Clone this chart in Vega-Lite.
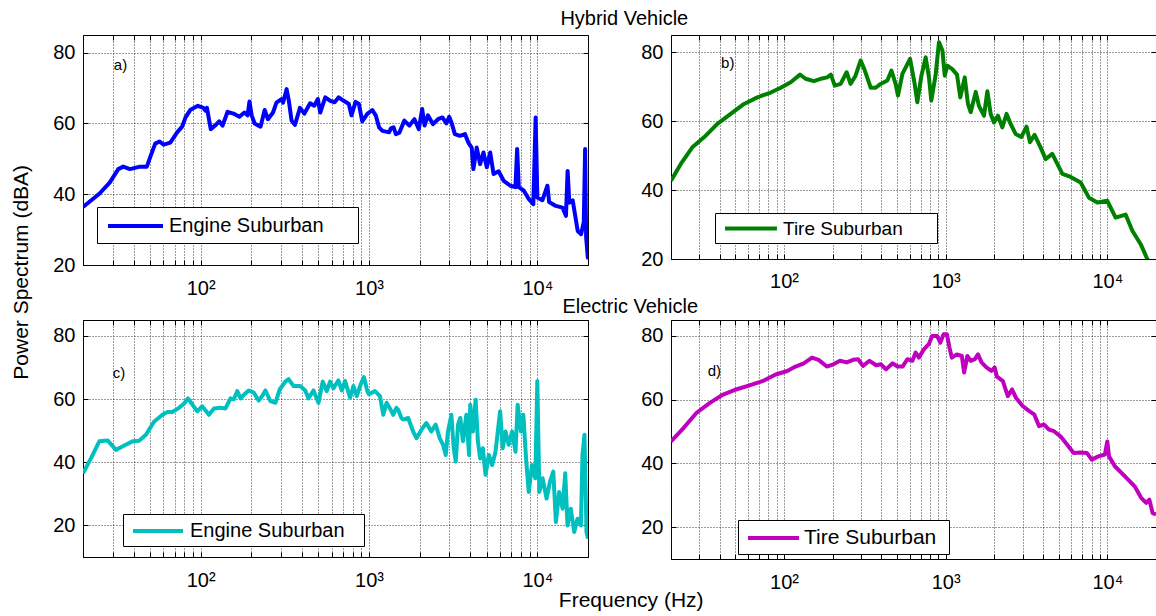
{
  "$schema": "https://vega.github.io/schema/vega-lite/v6.json",
  "padding": {"left": 9, "top": 8, "right": 0, "bottom": 0},
  "background": "white",
  "config": {
    "font": "Liberation Sans",
    "view": {"stroke": "black", "strokeWidth": 1},
    "axis": {
      "labelFont": "Liberation Sans", "labelFontSize": 20, "labelColor": "black",
      "titleFont": "Liberation Sans", "titleFontSize": 21, "titleFontWeight": "normal", "titleColor": "black",
      "domain": false, "gridColor": "#222", "gridDash": [1, 2], "gridWidth": 0.9,
      "tickColor": "black", "tickSize": -5, "tickWidth": 1,
      "labelOverlap": false, "labelBound": false, "labelFlush": false
    },
    "legend": {"strokeColor": "black", "fillColor": "white", "labelFont": "Liberation Sans", "labelColor": "black", "labelLimit": 400},
    "title": {"font": "Liberation Sans", "fontSize": 20, "fontWeight": "normal", "color": "black", "frame": "group", "anchor": "middle", "baseline": "alphabetic"}
  },
  "datasets": {
    "a": [
      {"f":20,"v":36.4,"s":"Engine Suburban"},{"f":25.1,"v":40.2,"s":"Engine Suburban"},{"f":28.8,"v":43.3,"s":"Engine Suburban"},{"f":32.4,"v":47.1,"s":"Engine Suburban"},{"f":34.7,"v":47.8,"s":"Engine Suburban"},{"f":38,"v":47.1,"s":"Engine Suburban"},{"f":43.6,"v":47.8,"s":"Engine Suburban"},{"f":47.9,"v":47.8,"s":"Engine Suburban"},{"f":50.1,"v":50.4,"s":"Engine Suburban"},{"f":53.7,"v":54.3,"s":"Engine Suburban"},{"f":57,"v":54.9,"s":"Engine Suburban"},{"f":60.3,"v":54.0,"s":"Engine Suburban"},{"f":66,"v":54.6,"s":"Engine Suburban"},{"f":72.5,"v":57.5,"s":"Engine Suburban"},{"f":77.6,"v":59.1,"s":"Engine Suburban"},{"f":81.3,"v":61.7,"s":"Engine Suburban"},{"f":87.1,"v":63.9,"s":"Engine Suburban"},{"f":96.3,"v":65.0,"s":"Engine Suburban"},{"f":103.8,"v":64.4,"s":"Engine Suburban"},{"f":107,"v":63.6,"s":"Engine Suburban"},{"f":109,"v":64.4,"s":"Engine Suburban"},{"f":114.8,"v":58.4,"s":"Engine Suburban"},{"f":123,"v":59.6,"s":"Engine Suburban"},{"f":128.8,"v":60.6,"s":"Engine Suburban"},{"f":134.9,"v":59.4,"s":"Engine Suburban"},{"f":144.5,"v":63.3,"s":"Engine Suburban"},{"f":158.5,"v":62.7,"s":"Engine Suburban"},{"f":169.8,"v":61.9,"s":"Engine Suburban"},{"f":181.9,"v":63.1,"s":"Engine Suburban"},{"f":190,"v":62.3,"s":"Engine Suburban"},{"f":195,"v":66.2,"s":"Engine Suburban"},{"f":201,"v":62.3,"s":"Engine Suburban"},{"f":209,"v":60.0,"s":"Engine Suburban"},{"f":227,"v":59.1,"s":"Engine Suburban"},{"f":240,"v":63.8,"s":"Engine Suburban"},{"f":251,"v":61.2,"s":"Engine Suburban"},{"f":269,"v":63.1,"s":"Engine Suburban"},{"f":282,"v":65.9,"s":"Engine Suburban"},{"f":302,"v":66.9,"s":"Engine Suburban"},{"f":309,"v":65.9,"s":"Engine Suburban"},{"f":324,"v":69.7,"s":"Engine Suburban"},{"f":334,"v":66.4,"s":"Engine Suburban"},{"f":347,"v":60.8,"s":"Engine Suburban"},{"f":363,"v":59.6,"s":"Engine Suburban"},{"f":389,"v":64.4,"s":"Engine Suburban"},{"f":413,"v":62.8,"s":"Engine Suburban"},{"f":447,"v":65.7,"s":"Engine Suburban"},{"f":473,"v":65.0,"s":"Engine Suburban"},{"f":497,"v":66.9,"s":"Engine Suburban"},{"f":513,"v":63.1,"s":"Engine Suburban"},{"f":550,"v":67.4,"s":"Engine Suburban"},{"f":589,"v":66.4,"s":"Engine Suburban"},{"f":625,"v":66.0,"s":"Engine Suburban"},{"f":661,"v":67.4,"s":"Engine Suburban"},{"f":708,"v":66.4,"s":"Engine Suburban"},{"f":759,"v":65.5,"s":"Engine Suburban"},{"f":787,"v":62.3,"s":"Engine Suburban"},{"f":832,"v":66.1,"s":"Engine Suburban"},{"f":871,"v":65.5,"s":"Engine Suburban"},{"f":912,"v":60.6,"s":"Engine Suburban"},{"f":977,"v":62.7,"s":"Engine Suburban"},{"f":1047,"v":63.8,"s":"Engine Suburban"},{"f":1096,"v":62.3,"s":"Engine Suburban"},{"f":1148,"v":58.9,"s":"Engine Suburban"},{"f":1202,"v":57.9,"s":"Engine Suburban"},{"f":1259,"v":57.7,"s":"Engine Suburban"},{"f":1318,"v":57.5,"s":"Engine Suburban"},{"f":1349,"v":58.6,"s":"Engine Suburban"},{"f":1400,"v":58.9,"s":"Engine Suburban"},{"f":1445,"v":57.0,"s":"Engine Suburban"},{"f":1514,"v":57.4,"s":"Engine Suburban"},{"f":1622,"v":60.8,"s":"Engine Suburban"},{"f":1738,"v":59.4,"s":"Engine Suburban"},{"f":1862,"v":61.2,"s":"Engine Suburban"},{"f":1977,"v":58.4,"s":"Engine Suburban"},{"f":2070,"v":64.1,"s":"Engine Suburban"},{"f":2138,"v":59.4,"s":"Engine Suburban"},{"f":2239,"v":62.3,"s":"Engine Suburban"},{"f":2399,"v":59.8,"s":"Engine Suburban"},{"f":2570,"v":61.2,"s":"Engine Suburban"},{"f":2729,"v":61.7,"s":"Engine Suburban"},{"f":2884,"v":60.0,"s":"Engine Suburban"},{"f":2994,"v":61.9,"s":"Engine Suburban"},{"f":3090,"v":60.3,"s":"Engine Suburban"},{"f":3236,"v":57.0,"s":"Engine Suburban"},{"f":3467,"v":56.5,"s":"Engine Suburban"},{"f":3715,"v":57.0,"s":"Engine Suburban"},{"f":3890,"v":54.6,"s":"Engine Suburban"},{"f":4074,"v":53.2,"s":"Engine Suburban"},{"f":4169,"v":47.1,"s":"Engine Suburban"},{"f":4365,"v":53.2,"s":"Engine Suburban"},{"f":4571,"v":48.5,"s":"Engine Suburban"},{"f":4786,"v":51.8,"s":"Engine Suburban"},{"f":5012,"v":47.6,"s":"Engine Suburban"},{"f":5248,"v":51.8,"s":"Engine Suburban"},{"f":5495,"v":45.7,"s":"Engine Suburban"},{"f":5888,"v":46.5,"s":"Engine Suburban"},{"f":6310,"v":43.8,"s":"Engine Suburban"},{"f":6918,"v":42.4,"s":"Engine Suburban"},{"f":7413,"v":42.0,"s":"Engine Suburban"},{"f":7586,"v":52.8,"s":"Engine Suburban"},{"f":7762,"v":42.0,"s":"Engine Suburban"},{"f":8318,"v":41.0,"s":"Engine Suburban"},{"f":8913,"v":38.6,"s":"Engine Suburban"},{"f":9467,"v":37.2,"s":"Engine Suburban"},{"f":9772,"v":61.7,"s":"Engine Suburban"},{"f":10000,"v":39.1,"s":"Engine Suburban"},{"f":10715,"v":38.3,"s":"Engine Suburban"},{"f":11482,"v":42.4,"s":"Engine Suburban"},{"f":11750,"v":37.8,"s":"Engine Suburban"},{"f":12882,"v":36.7,"s":"Engine Suburban"},{"f":14125,"v":36.2,"s":"Engine Suburban"},{"f":14791,"v":33.9,"s":"Engine Suburban"},{"f":15136,"v":46.6,"s":"Engine Suburban"},{"f":15488,"v":37.6,"s":"Engine Suburban"},{"f":16218,"v":38.3,"s":"Engine Suburban"},{"f":17378,"v":29.6,"s":"Engine Suburban"},{"f":18197,"v":28.7,"s":"Engine Suburban"},{"f":18880,"v":32.2,"s":"Engine Suburban"},{"f":19230,"v":52.8,"s":"Engine Suburban"},{"f":19500,"v":27.8,"s":"Engine Suburban"},{"f":19950,"v":22.1,"s":"Engine Suburban"},{"f":20000,"v":24.0,"s":"Engine Suburban"}
    ],
    "b": [
      {"f":20,"v":42.7,"s":"Tire Suburban"},{"f":23,"v":47.6,"s":"Tire Suburban"},{"f":27.1,"v":52.4,"s":"Tire Suburban"},{"f":32,"v":55.3,"s":"Tire Suburban"},{"f":38.7,"v":59.2,"s":"Tire Suburban"},{"f":46.8,"v":62.1,"s":"Tire Suburban"},{"f":56.6,"v":65.0,"s":"Tire Suburban"},{"f":68.4,"v":66.9,"s":"Tire Suburban"},{"f":72,"v":67.3,"s":"Tire Suburban"},{"f":82.8,"v":68.3,"s":"Tire Suburban"},{"f":95.4,"v":69.7,"s":"Tire Suburban"},{"f":110,"v":71.3,"s":"Tire Suburban"},{"f":125.6,"v":73.5,"s":"Tire Suburban"},{"f":136,"v":72.3,"s":"Tire Suburban"},{"f":153,"v":71.6,"s":"Tire Suburban"},{"f":168.6,"v":72.3,"s":"Tire Suburban"},{"f":185,"v":72.7,"s":"Tire Suburban"},{"f":195,"v":73.5,"s":"Tire Suburban"},{"f":206,"v":70.3,"s":"Tire Suburban"},{"f":224,"v":70.8,"s":"Tire Suburban"},{"f":244,"v":74.2,"s":"Tire Suburban"},{"f":258,"v":70.8,"s":"Tire Suburban"},{"f":277,"v":73.2,"s":"Tire Suburban"},{"f":298,"v":77.6,"s":"Tire Suburban"},{"f":315,"v":74.9,"s":"Tire Suburban"},{"f":344,"v":69.7,"s":"Tire Suburban"},{"f":369,"v":69.7,"s":"Tire Suburban"},{"f":396,"v":70.8,"s":"Tire Suburban"},{"f":436,"v":71.8,"s":"Tire Suburban"},{"f":462,"v":74.7,"s":"Tire Suburban"},{"f":490,"v":70.8,"s":"Tire Suburban"},{"f":507,"v":67.4,"s":"Tire Suburban"},{"f":540,"v":73.7,"s":"Tire Suburban"},{"f":602,"v":78.1,"s":"Tire Suburban"},{"f":643,"v":70.8,"s":"Tire Suburban"},{"f":668,"v":65.5,"s":"Tire Suburban"},{"f":708,"v":73.2,"s":"Tire Suburban"},{"f":752,"v":78.5,"s":"Tire Suburban"},{"f":788,"v":72.7,"s":"Tire Suburban"},{"f":815,"v":66.0,"s":"Tire Suburban"},{"f":867,"v":73.5,"s":"Tire Suburban"},{"f":909,"v":82.9,"s":"Tire Suburban"},{"f":955,"v":80.5,"s":"Tire Suburban"},{"f":987,"v":73.2,"s":"Tire Suburban"},{"f":1023,"v":76.1,"s":"Tire Suburban"},{"f":1099,"v":75.1,"s":"Tire Suburban"},{"f":1175,"v":73.5,"s":"Tire Suburban"},{"f":1232,"v":66.9,"s":"Tire Suburban"},{"f":1312,"v":72.7,"s":"Tire Suburban"},{"f":1374,"v":65.0,"s":"Tire Suburban"},{"f":1428,"v":62.6,"s":"Tire Suburban"},{"f":1534,"v":68.5,"s":"Tire Suburban"},{"f":1607,"v":64.4,"s":"Tire Suburban"},{"f":1726,"v":61.6,"s":"Tire Suburban"},{"f":1811,"v":68.7,"s":"Tire Suburban"},{"f":1899,"v":62.1,"s":"Tire Suburban"},{"f":1990,"v":59.6,"s":"Tire Suburban"},{"f":2105,"v":61.6,"s":"Tire Suburban"},{"f":2240,"v":58.2,"s":"Tire Suburban"},{"f":2382,"v":62.1,"s":"Tire Suburban"},{"f":2522,"v":59.2,"s":"Tire Suburban"},{"f":2708,"v":56.3,"s":"Tire Suburban"},{"f":2937,"v":55.4,"s":"Tire Suburban"},{"f":3166,"v":58.4,"s":"Tire Suburban"},{"f":3320,"v":53.9,"s":"Tire Suburban"},{"f":3549,"v":56.0,"s":"Tire Suburban"},{"f":3863,"v":52.4,"s":"Tire Suburban"},{"f":4150,"v":49.0,"s":"Tire Suburban"},{"f":4567,"v":50.5,"s":"Tire Suburban"},{"f":4906,"v":47.6,"s":"Tire Suburban"},{"f":5270,"v":44.7,"s":"Tire Suburban"},{"f":5934,"v":43.8,"s":"Tire Suburban"},{"f":6840,"v":42.2,"s":"Tire Suburban"},{"f":7696,"v":37.8,"s":"Tire Suburban"},{"f":8670,"v":36.4,"s":"Tire Suburban"},{"f":10000,"v":36.9,"s":"Tire Suburban"},{"f":11250,"v":32.0,"s":"Tire Suburban"},{"f":12970,"v":32.9,"s":"Tire Suburban"},{"f":14280,"v":28.2,"s":"Tire Suburban"},{"f":16080,"v":24.3,"s":"Tire Suburban"},{"f":17660,"v":20.0,"s":"Tire Suburban"},{"f":18200,"v":19.0,"s":"Tire Suburban"}
    ],
    "c": [
      {"f":20,"v":36.5,"s":"Engine Suburban"},{"f":22.3,"v":41.2,"s":"Engine Suburban"},{"f":25,"v":46.6,"s":"Engine Suburban"},{"f":28,"v":46.9,"s":"Engine Suburban"},{"f":31.4,"v":43.9,"s":"Engine Suburban"},{"f":35.2,"v":45.3,"s":"Engine Suburban"},{"f":39.4,"v":46.6,"s":"Engine Suburban"},{"f":43.1,"v":46.8,"s":"Engine Suburban"},{"f":47.3,"v":48.7,"s":"Engine Suburban"},{"f":53,"v":52.9,"s":"Engine Suburban"},{"f":59.3,"v":55.0,"s":"Engine Suburban"},{"f":63.5,"v":55.9,"s":"Engine Suburban"},{"f":67.9,"v":55.9,"s":"Engine Suburban"},{"f":74.4,"v":57.2,"s":"Engine Suburban"},{"f":79.5,"v":58.5,"s":"Engine Suburban"},{"f":84,"v":60.2,"s":"Engine Suburban"},{"f":89.1,"v":58.3,"s":"Engine Suburban"},{"f":95.5,"v":56.1,"s":"Engine Suburban"},{"f":102,"v":57.7,"s":"Engine Suburban"},{"f":112,"v":55.0,"s":"Engine Suburban"},{"f":120,"v":57.0,"s":"Engine Suburban"},{"f":131,"v":57.2,"s":"Engine Suburban"},{"f":140.5,"v":57.0,"s":"Engine Suburban"},{"f":150.5,"v":60.2,"s":"Engine Suburban"},{"f":157.5,"v":59.9,"s":"Engine Suburban"},{"f":165,"v":62.5,"s":"Engine Suburban"},{"f":172.6,"v":60.2,"s":"Engine Suburban"},{"f":182,"v":61.5,"s":"Engine Suburban"},{"f":193,"v":62.7,"s":"Engine Suburban"},{"f":207,"v":62.0,"s":"Engine Suburban"},{"f":221,"v":59.5,"s":"Engine Suburban"},{"f":231.6,"v":60.9,"s":"Engine Suburban"},{"f":242.5,"v":62.7,"s":"Engine Suburban"},{"f":259.6,"v":59.3,"s":"Engine Suburban"},{"f":278,"v":58.8,"s":"Engine Suburban"},{"f":294.6,"v":63.0,"s":"Engine Suburban"},{"f":318.5,"v":65.5,"s":"Engine Suburban"},{"f":333,"v":66.3,"s":"Engine Suburban"},{"f":356.5,"v":64.1,"s":"Engine Suburban"},{"f":390.5,"v":64.1,"s":"Engine Suburban"},{"f":418,"v":62.7,"s":"Engine Suburban"},{"f":437.5,"v":60.2,"s":"Engine Suburban"},{"f":468,"v":62.7,"s":"Engine Suburban"},{"f":501,"v":58.8,"s":"Engine Suburban"},{"f":531,"v":65.5,"s":"Engine Suburban"},{"f":561,"v":62.5,"s":"Engine Suburban"},{"f":587,"v":65.5,"s":"Engine Suburban"},{"f":615,"v":63.4,"s":"Engine Suburban"},{"f":658,"v":65.9,"s":"Engine Suburban"},{"f":689,"v":62.7,"s":"Engine Suburban"},{"f":721,"v":65.7,"s":"Engine Suburban"},{"f":772,"v":60.4,"s":"Engine Suburban"},{"f":808,"v":64.1,"s":"Engine Suburban"},{"f":846,"v":60.9,"s":"Engine Suburban"},{"f":892,"v":64.6,"s":"Engine Suburban"},{"f":934,"v":66.9,"s":"Engine Suburban"},{"f":977,"v":62.5,"s":"Engine Suburban"},{"f":1000,"v":61.5,"s":"Engine Suburban"},{"f":1086,"v":62.5,"s":"Engine Suburban"},{"f":1162,"v":60.9,"s":"Engine Suburban"},{"f":1216,"v":55.0,"s":"Engine Suburban"},{"f":1272,"v":58.8,"s":"Engine Suburban"},{"f":1361,"v":56.1,"s":"Engine Suburban"},{"f":1393,"v":55.0,"s":"Engine Suburban"},{"f":1456,"v":57.2,"s":"Engine Suburban"},{"f":1490,"v":56.6,"s":"Engine Suburban"},{"f":1559,"v":54.0,"s":"Engine Suburban"},{"f":1596,"v":53.5,"s":"Engine Suburban"},{"f":1709,"v":54.0,"s":"Engine Suburban"},{"f":1830,"v":49.7,"s":"Engine Suburban"},{"f":1914,"v":47.6,"s":"Engine Suburban"},{"f":2050,"v":50.3,"s":"Engine Suburban"},{"f":2193,"v":52.4,"s":"Engine Suburban"},{"f":2345,"v":49.7,"s":"Engine Suburban"},{"f":2490,"v":51.9,"s":"Engine Suburban"},{"f":2630,"v":47.6,"s":"Engine Suburban"},{"f":2754,"v":45.5,"s":"Engine Suburban"},{"f":2856,"v":42.3,"s":"Engine Suburban"},{"f":2946,"v":49.7,"s":"Engine Suburban"},{"f":3085,"v":55.0,"s":"Engine Suburban"},{"f":3188,"v":44.4,"s":"Engine Suburban"},{"f":3275,"v":40.2,"s":"Engine Suburban"},{"f":3380,"v":51.9,"s":"Engine Suburban"},{"f":3487,"v":54.0,"s":"Engine Suburban"},{"f":3617,"v":46.6,"s":"Engine Suburban"},{"f":3787,"v":55.0,"s":"Engine Suburban"},{"f":3930,"v":42.3,"s":"Engine Suburban"},{"f":3994,"v":58.2,"s":"Engine Suburban"},{"f":4143,"v":49.7,"s":"Engine Suburban"},{"f":4300,"v":59.8,"s":"Engine Suburban"},{"f":4436,"v":46.6,"s":"Engine Suburban"},{"f":4575,"v":41.2,"s":"Engine Suburban"},{"f":4747,"v":44.4,"s":"Engine Suburban"},{"f":4924,"v":36.0,"s":"Engine Suburban"},{"f":5150,"v":42.3,"s":"Engine Suburban"},{"f":5390,"v":39.1,"s":"Engine Suburban"},{"f":5643,"v":43.3,"s":"Engine Suburban"},{"f":6010,"v":56.1,"s":"Engine Suburban"},{"f":6233,"v":44.4,"s":"Engine Suburban"},{"f":6468,"v":49.7,"s":"Engine Suburban"},{"f":6763,"v":45.5,"s":"Engine Suburban"},{"f":7080,"v":49.7,"s":"Engine Suburban"},{"f":7420,"v":43.3,"s":"Engine Suburban"},{"f":7640,"v":58.2,"s":"Engine Suburban"},{"f":7995,"v":49.7,"s":"Engine Suburban"},{"f":8260,"v":55.0,"s":"Engine Suburban"},{"f":8570,"v":41.2,"s":"Engine Suburban"},{"f":8890,"v":30.6,"s":"Engine Suburban"},{"f":9300,"v":39.1,"s":"Engine Suburban"},{"f":9730,"v":34.9,"s":"Engine Suburban"},{"f":10000,"v":65.7,"s":"Engine Suburban"},{"f":10280,"v":30.6,"s":"Engine Suburban"},{"f":10750,"v":34.9,"s":"Engine Suburban"},{"f":11350,"v":28.5,"s":"Engine Suburban"},{"f":11880,"v":33.8,"s":"Engine Suburban"},{"f":12440,"v":37.0,"s":"Engine Suburban"},{"f":12890,"v":21.1,"s":"Engine Suburban"},{"f":13490,"v":30.6,"s":"Engine Suburban"},{"f":14130,"v":25.3,"s":"Engine Suburban"},{"f":14650,"v":36.5,"s":"Engine Suburban"},{"f":15110,"v":20.0,"s":"Engine Suburban"},{"f":15800,"v":25.3,"s":"Engine Suburban"},{"f":16560,"v":17.9,"s":"Engine Suburban"},{"f":17330,"v":22.1,"s":"Engine Suburban"},{"f":18150,"v":20.0,"s":"Engine Suburban"},{"f":18540,"v":42.3,"s":"Engine Suburban"},{"f":19060,"v":48.7,"s":"Engine Suburban"},{"f":19590,"v":17.9,"s":"Engine Suburban"},{"f":20000,"v":15.8,"s":"Engine Suburban"}
    ],
    "d": [
      {"f":20,"v":46.9,"s":"Tire Suburban"},{"f":23.9,"v":51.1,"s":"Tire Suburban"},{"f":28.8,"v":55.9,"s":"Tire Suburban"},{"f":34.8,"v":59.0,"s":"Tire Suburban"},{"f":42,"v":61.6,"s":"Tire Suburban"},{"f":50.6,"v":63.2,"s":"Tire Suburban"},{"f":61.1,"v":64.5,"s":"Tire Suburban"},{"f":73.6,"v":65.8,"s":"Tire Suburban"},{"f":88.9,"v":67.9,"s":"Tire Suburban"},{"f":104.8,"v":69.0,"s":"Tire Suburban"},{"f":117.8,"v":70.4,"s":"Tire Suburban"},{"f":132.5,"v":71.4,"s":"Tire Suburban"},{"f":149,"v":73.2,"s":"Tire Suburban"},{"f":163.6,"v":72.5,"s":"Tire Suburban"},{"f":184,"v":70.4,"s":"Tire Suburban"},{"f":202,"v":71.1,"s":"Tire Suburban"},{"f":222,"v":72.2,"s":"Tire Suburban"},{"f":244,"v":71.7,"s":"Tire Suburban"},{"f":268,"v":72.5,"s":"Tire Suburban"},{"f":287,"v":72.7,"s":"Tire Suburban"},{"f":308,"v":70.6,"s":"Tire Suburban"},{"f":338,"v":72.2,"s":"Tire Suburban"},{"f":371.5,"v":70.8,"s":"Tire Suburban"},{"f":398,"v":71.1,"s":"Tire Suburban"},{"f":427.6,"v":69.5,"s":"Tire Suburban"},{"f":470,"v":71.4,"s":"Tire Suburban"},{"f":504,"v":70.4,"s":"Tire Suburban"},{"f":541,"v":70.4,"s":"Tire Suburban"},{"f":580,"v":72.7,"s":"Tire Suburban"},{"f":623,"v":72.2,"s":"Tire Suburban"},{"f":652,"v":74.8,"s":"Tire Suburban"},{"f":683,"v":73.2,"s":"Tire Suburban"},{"f":733,"v":75.8,"s":"Tire Suburban"},{"f":786,"v":77.4,"s":"Tire Suburban"},{"f":825,"v":80.0,"s":"Tire Suburban"},{"f":885,"v":80.0,"s":"Tire Suburban"},{"f":927,"v":77.9,"s":"Tire Suburban"},{"f":971,"v":80.5,"s":"Tire Suburban"},{"f":1018,"v":80.5,"s":"Tire Suburban"},{"f":1056,"v":76.3,"s":"Tire Suburban"},{"f":1092,"v":73.2,"s":"Tire Suburban"},{"f":1172,"v":74.2,"s":"Tire Suburban"},{"f":1259,"v":73.7,"s":"Tire Suburban"},{"f":1300,"v":68.5,"s":"Tire Suburban"},{"f":1362,"v":73.7,"s":"Tire Suburban"},{"f":1428,"v":72.2,"s":"Tire Suburban"},{"f":1517,"v":72.7,"s":"Tire Suburban"},{"f":1585,"v":74.2,"s":"Tire Suburban"},{"f":1667,"v":71.7,"s":"Tire Suburban"},{"f":1787,"v":70.1,"s":"Tire Suburban"},{"f":1919,"v":69.0,"s":"Tire Suburban"},{"f":2010,"v":70.1,"s":"Tire Suburban"},{"f":2076,"v":67.2,"s":"Tire Suburban"},{"f":2259,"v":65.8,"s":"Tire Suburban"},{"f":2422,"v":61.1,"s":"Tire Suburban"},{"f":2576,"v":63.2,"s":"Tire Suburban"},{"f":2727,"v":60.5,"s":"Tire Suburban"},{"f":2994,"v":58.0,"s":"Tire Suburban"},{"f":3289,"v":56.4,"s":"Tire Suburban"},{"f":3526,"v":55.4,"s":"Tire Suburban"},{"f":3783,"v":51.7,"s":"Tire Suburban"},{"f":4061,"v":52.2,"s":"Tire Suburban"},{"f":4357,"v":50.6,"s":"Tire Suburban"},{"f":4677,"v":50.1,"s":"Tire Suburban"},{"f":5130,"v":48.5,"s":"Tire Suburban"},{"f":5632,"v":45.9,"s":"Tire Suburban"},{"f":6190,"v":43.3,"s":"Tire Suburban"},{"f":6800,"v":43.4,"s":"Tire Suburban"},{"f":7470,"v":43.3,"s":"Tire Suburban"},{"f":8010,"v":41.2,"s":"Tire Suburban"},{"f":8800,"v":42.2,"s":"Tire Suburban"},{"f":9660,"v":42.8,"s":"Tire Suburban"},{"f":10000,"v":46.9,"s":"Tire Suburban"},{"f":10240,"v":42.2,"s":"Tire Suburban"},{"f":11130,"v":39.1,"s":"Tire Suburban"},{"f":12810,"v":36.0,"s":"Tire Suburban"},{"f":14760,"v":32.8,"s":"Tire Suburban"},{"f":16190,"v":29.2,"s":"Tire Suburban"},{"f":17390,"v":27.6,"s":"Tire Suburban"},{"f":18200,"v":28.6,"s":"Tire Suburban"},{"f":19060,"v":24.4,"s":"Tire Suburban"},{"f":20000,"v":24.0,"s":"Tire Suburban"}
    ],
    "one": [{"k": 1}]
  },
  "columns": 2,
  "bounds": "flush",
  "spacing": {"row": 55, "column": 83},
  "resolve": {"scale": {"color": "independent", "x": "independent", "y": "independent"}, "legend": {"color": "independent"}},
  "concat": [
    {
      "width": 505, "height": 230,
      "title": {"text": "Hybrid Vehicle", "dx": 288.8, "offset": 5.6},
      "resolve": {"axis": {"x": "independent", "y": "independent"}},
      "layer": [
        {
          "data": {"name": "a"},
          "mark": {"type": "line", "clip": true, "strokeWidth": 4, "strokeJoin": "round"},
          "encoding": {
            "x": {"field": "f", "type": "quantitative", "scale": {"type": "log", "domain": [20, 20000], "nice": false},
              "axis": {"orient": "bottom", "values": [20,30,40,50,60,70,80,90,100,200,300,400,500,600,700,800,900,1000,2000,3000,4000,5000,6000,7000,8000,9000,10000,20000], "labelExpr": "datum.value == 100 ? '10²' : datum.value == 1000 ? '10³' : datum.value == 10000 ? '10⁴' : ''", "labelBaseline": "alphabetic", "labelAlign": "center", "labelPadding": 34, "title": null}},
            "y": {"field": "v", "type": "quantitative", "scale": {"domain": [20, 85], "nice": false, "zero": false},
              "axis": {"orient": "left", "values": [20, 40, 60, 80], "labelPadding": 13, "labelBaseline": "middle", "title": "Power Spectrum (dBA)", "titleX": -56, "titleY": 236.8, "titleAngle": 270, "titleAlign": "center", "titleBaseline": "alphabetic"}},
            "color": {"field": "s", "type": "nominal", "scale": {"range": ["#0000ff"]},
              "legend": {"orient": "none", "legendX": 14, "legendY": 172, "title": ".", "titleOrient": "right", "titleFontSize": 8, "titleOpacity": 0, "titlePadding": 24.3, "padding": 7, "symbolType": "M-0.8,0H4.7", "symbolSize": 400, "symbolStrokeWidth": 4, "labelOffset": 41, "labelFontSize": 20}}
          }
        },
        {
          "data": {"name": "one"},
          "mark": {"type": "text", "align": "left", "baseline": "middle", "fontSize": 15, "font": "Liberation Sans", "color": "black"},
          "encoding": {
            "x": {"datum": 30.5, "type": "quantitative", "axis": {"orient": "top", "values": [20,30,40,50,60,70,80,90,100,200,300,400,500,600,700,800,900,1000,2000,3000,4000,5000,6000,7000,8000,9000,10000,20000], "labels": false, "grid": false, "title": null}},
            "y": {"datum": 76.6, "type": "quantitative", "axis": {"orient": "right", "values": [20, 40, 60, 80], "labels": false, "grid": false, "title": null}},
            "text": {"value": "a)"}
          }
        }
      ]
    },
    {
      "width": 485, "height": 224,
      "resolve": {"axis": {"x": "independent", "y": "independent"}},
      "layer": [
        {
          "data": {"name": "b"},
          "mark": {"type": "line", "clip": true, "strokeWidth": 4, "strokeJoin": "round"},
          "encoding": {
            "x": {"field": "f", "type": "quantitative", "scale": {"type": "log", "domain": [20, 20000], "nice": false},
              "axis": {"orient": "bottom", "values": [20,30,40,50,60,70,80,90,100,200,300,400,500,600,700,800,900,1000,2000,3000,4000,5000,6000,7000,8000,9000,10000,20000], "labelExpr": "datum.value == 100 ? '10²' : datum.value == 1000 ? '10³' : datum.value == 10000 ? '10⁴' : ''", "labelBaseline": "alphabetic", "labelAlign": "center", "labelPadding": 33, "title": null}},
            "y": {"field": "v", "type": "quantitative", "scale": {"domain": [20, 85], "nice": false, "zero": false},
              "axis": {"orient": "left", "values": [20, 40, 60, 80], "labelPadding": 13, "labelBaseline": "middle", "title": null}},
            "color": {"field": "s", "type": "nominal", "scale": {"range": ["#008000"]},
              "legend": {"orient": "none", "legendX": 44, "legendY": 178, "title": ".", "titleOrient": "right", "titleFontSize": 8, "titleOpacity": 0, "titlePadding": 27.4, "padding": 4, "symbolType": "M-0.58,0H4.89", "symbolSize": 361, "symbolStrokeWidth": 4, "labelOffset": 41, "labelFontSize": 19}}
          }
        },
        {
          "data": {"name": "one"},
          "mark": {"type": "text", "align": "left", "baseline": "middle", "fontSize": 15, "font": "Liberation Sans", "color": "black"},
          "encoding": {
            "x": {"datum": 40.8, "type": "quantitative", "axis": {"orient": "top", "values": [20,30,40,50,60,70,80,90,100,200,300,400,500,600,700,800,900,1000,2000,3000,4000,5000,6000,7000,8000,9000,10000,20000], "labels": false, "grid": false, "title": null}},
            "y": {"datum": 76.9, "type": "quantitative", "axis": {"orient": "right", "values": [20, 40, 60, 80], "labels": false, "grid": false, "title": null}},
            "text": {"value": "b)"}
          }
        }
      ]
    },
    {
      "width": 505, "height": 237,
      "title": {"text": "Electric Vehicle", "dx": 294.7, "offset": 3},
      "resolve": {"axis": {"x": "independent", "y": "independent"}},
      "layer": [
        {
          "data": {"name": "c"},
          "mark": {"type": "line", "clip": true, "strokeWidth": 4, "strokeJoin": "round"},
          "encoding": {
            "x": {"field": "f", "type": "quantitative", "scale": {"type": "log", "domain": [20, 20000], "nice": false},
              "axis": {"orient": "bottom", "values": [20,30,40,50,60,70,80,90,100,200,300,400,500,600,700,800,900,1000,2000,3000,4000,5000,6000,7000,8000,9000,10000,20000], "labelExpr": "datum.value == 100 ? '10²' : datum.value == 1000 ? '10³' : datum.value == 10000 ? '10⁴' : ''", "labelBaseline": "alphabetic", "labelAlign": "center", "labelPadding": 34, "title": "Frequency (Hz)", "titleX": 547.7, "titleY": 49, "titleAlign": "center", "titleBaseline": "alphabetic", "titleAngle": 0}},
            "y": {"field": "v", "type": "quantitative", "scale": {"domain": [10, 85], "nice": false, "zero": false},
              "axis": {"orient": "left", "values": [20, 40, 60, 80], "labelPadding": 13, "labelBaseline": "middle", "title": null}},
            "color": {"field": "s", "type": "nominal", "scale": {"range": ["#00bfbf"]},
              "legend": {"orient": "none", "legendX": 40, "legendY": 194, "title": ".", "titleOrient": "right", "titleFontSize": 8, "titleOpacity": 0, "titlePadding": 11.3, "padding": 5, "symbolType": "M-0.7,0H4.3", "symbolSize": 400, "symbolStrokeWidth": 4, "labelOffset": 38, "labelFontSize": 20}}
          }
        },
        {
          "data": {"name": "one"},
          "mark": {"type": "text", "align": "left", "baseline": "middle", "fontSize": 15, "font": "Liberation Sans", "color": "black"},
          "encoding": {
            "x": {"datum": 30.0, "type": "quantitative", "axis": {"orient": "top", "values": [20,30,40,50,60,70,80,90,100,200,300,400,500,600,700,800,900,1000,2000,3000,4000,5000,6000,7000,8000,9000,10000,20000], "labels": false, "grid": false, "title": null}},
            "y": {"datum": 68.3, "type": "quantitative", "axis": {"orient": "right", "values": [20, 40, 60, 80], "labels": false, "grid": false, "title": null}},
            "text": {"value": "c)"}
          }
        }
      ]
    },
    {
      "width": 485, "height": 239,
      "resolve": {"axis": {"x": "independent", "y": "independent"}},
      "layer": [
        {
          "data": {"name": "d"},
          "mark": {"type": "line", "clip": true, "strokeWidth": 4, "strokeJoin": "round"},
          "encoding": {
            "x": {"field": "f", "type": "quantitative", "scale": {"type": "log", "domain": [20, 20000], "nice": false},
              "axis": {"orient": "bottom", "values": [20,30,40,50,60,70,80,90,100,200,300,400,500,600,700,800,900,1000,2000,3000,4000,5000,6000,7000,8000,9000,10000,20000], "labelExpr": "datum.value == 100 ? '10²' : datum.value == 1000 ? '10³' : datum.value == 10000 ? '10⁴' : ''", "labelBaseline": "alphabetic", "labelAlign": "center", "labelPadding": 34, "title": null}},
            "y": {"field": "v", "type": "quantitative", "scale": {"domain": [10, 85], "nice": false, "zero": false},
              "axis": {"orient": "left", "values": [20, 40, 60, 80], "labelPadding": 13, "labelBaseline": "middle", "title": null}},
            "color": {"field": "s", "type": "nominal", "scale": {"range": ["#bf00bf"]},
              "legend": {"orient": "none", "legendX": 67, "legendY": 200, "title": ".", "titleOrient": "right", "titleFontSize": 8, "titleOpacity": 0, "titlePadding": 4.3, "padding": 5.5, "symbolType": "M-0.76,0H4.1", "symbolSize": 441, "symbolStrokeWidth": 4, "labelOffset": 35.5, "labelFontSize": 21}}
          }
        },
        {
          "data": {"name": "one"},
          "mark": {"type": "text", "align": "left", "baseline": "middle", "fontSize": 15, "font": "Liberation Sans", "color": "black"},
          "encoding": {
            "x": {"datum": 33.7, "type": "quantitative", "axis": {"orient": "top", "values": [20,30,40,50,60,70,80,90,100,200,300,400,500,600,700,800,900,1000,2000,3000,4000,5000,6000,7000,8000,9000,10000,20000], "labels": false, "grid": false, "title": null}},
            "y": {"datum": 68.9, "type": "quantitative", "axis": {"orient": "right", "values": [20, 40, 60, 80], "labels": false, "grid": false, "title": null}},
            "text": {"value": "d)"}
          }
        }
      ]
    }
  ]
}
